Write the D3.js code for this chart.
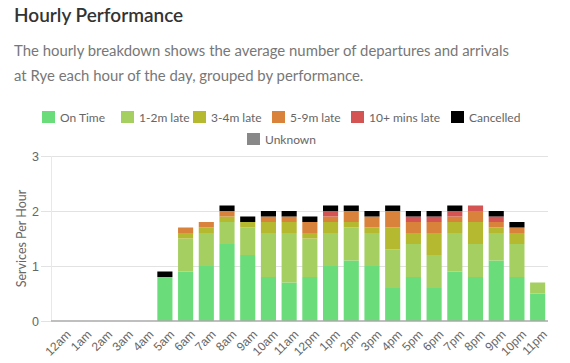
<!DOCTYPE html>
<html>
<head>
<meta charset="utf-8">
<script src="https://cdn.jsdelivr.net/npm/d3@7"></script>
<style>
  body { margin: 0; background: #fff; font-family: "Segoe UI", Lato, "Open Sans", sans-serif; }
  #chart { position: absolute; left: 0; top: 0; }
</style>
</head>
<body>
<div id="chart"></div>
<script>
// hours of the day
var hours = ['12am','1am','2am','3am','4am','5am','6am','7am','8am','9am','10am','11am',
             '12pm','1pm','2pm','3pm','4pm','5pm','6pm','7pm','8pm','9pm','10pm','11pm'];

// series values, services per hour
var onTime    = [0,0,0,0,0,0.8,0.9,1.0,1.4,1.2,0.8,0.7,0.8,1.0,1.1,1.0,0.6,0.8,0.6,0.9,0.8,1.1,0.8,0.5];
var late12    = [0,0,0,0,0,0,  0.6,0.6,0.4,0.5,0.8,0.9,0.7,0.6,0.6,0.6,0.7,0.6,0.6,0.7,0.6,0.5,0.6,0.2];
var late34    = [0,0,0,0,0,0,  0.1,0.1,0.1,0.1,0.2,0.2,0.1,0.2,0.1,0.1,0.4,0.2,0.4,0.2,0.4,0.1,0.2,0];
var late59    = [0,0,0,0,0,0,  0.1,0.1,0.1,0,  0.1,0.1,0.2,0.1,0.2,0.2,0.3,0.2,0.2,0.1,0.2,0.1,0.1,0];
var late10    = [0,0,0,0,0,0,  0,  0,  0,  0,  0,  0,  0,  0.1,0,  0,  0,  0.1,0.1,0.1,0.1,0.1,0,  0];
var cancelled = [0,0,0,0,0,0.1,0,  0,  0.1,0.1,0.1,0.1,0.1,0.1,0.1,0.1,0.1,0.1,0.1,0.1,0,  0.1,0.1,0];
var unknown   = [0,0,0,0,0,0,  0,  0,  0,  0,  0,  0,  0,  0,  0,  0,  0,  0,  0,  0,  0,  0,  0,  0];

var seriesNames = ['On Time','1-2m late','3-4m late','5-9m late','10+ mins late','Cancelled','Unknown'];
var seriesValues = [onTime, late12, late34, late59, late10, cancelled, unknown];
var colours = ['#6adc7a','#a6cf62','#b5b92f','#d9823c','#d45454','#000000','#888888'];
var yTicks = [0,1,2,3];

var w = 570, h = 363;
var m = { left: 51, right: 22, top: 156, bottom: 42 };

var svg = d3.select('#chart').append('svg')
    .attr('width', w)
    .attr('height', h);

// title and description
svg.append('text')
    .attr('x', 14).attr('y', 22)
    .attr('fill', '#333')
    .style('font-size', '19px')
    .style('font-weight', 600)
    .text('Hourly Performance');

var desc = ['The hourly breakdown shows the average number of departures and arrivals',
            'at Rye each hour of the day, grouped by performance.'];
svg.selectAll('.desc')
    .data(desc)
  .enter().append('text')
    .attr('class', 'desc')
    .attr('x', 14)
    .attr('y', function(d, i) { return 56 + i * 25; })
    .attr('fill', '#777')
    .style('font-size', '14.9px')
    .text(function(d) { return d; });

// legend
var legendRows = [[0,1,2,3,4,5],[6]];
var legendX = [[42,121,193,272,351,451],[247]];
legendRows.forEach(function(row, r) {
  var g = svg.selectAll('.leg' + r)
      .data(row)
    .enter().append('g')
      .attr('transform', function(d, i) { return 'translate(' + legendX[r][i] + ',' + (111 + r * 22) + ')'; });
  g.append('rect')
      .attr('width', 13).attr('height', 12)
      .attr('fill', function(d) { return colours[d]; });
  g.append('text')
      .attr('x', 18).attr('y', 10.5)
      .attr('fill', '#666')
      .style('font-size', '12px')
      .text(function(d) { return seriesNames[d]; });
});

// scales
var x = d3.scaleBand()
    .domain(hours)
    .range([m.left, w - m.right])
    .paddingInner(0.27)
    .paddingOuter(0.135);

var y = d3.scaleLinear()
    .domain([0, 3])
    .range([h - m.bottom, m.top]);

// grid
svg.append('g')
  .selectAll('line')
    .data(yTicks.slice(1))
  .enter().append('line')
    .attr('x1', m.left - 10).attr('x2', w - m.right)
    .attr('y1', function(d) { return y(d) + 0.5; })
    .attr('y2', function(d) { return y(d) + 0.5; })
    .attr('stroke', '#e2e2e2');

svg.append('line')
    .attr('x1', m.left + 0.5).attr('x2', m.left + 0.5)
    .attr('y1', m.top).attr('y2', h - m.bottom)
    .attr('stroke', '#e8e8e8');

// y axis
var yAxis = svg.append('g')
    .attr('transform', 'translate(' + m.left + ',0)')
    .call(d3.axisLeft(y).tickValues(yTicks).tickFormat(d3.format('d')).tickSize(10).tickPadding(2));
yAxis.select('.domain').remove();
yAxis.selectAll('line').attr('stroke', '#e2e2e2');
yAxis.selectAll('text').attr('fill', '#666').style('font-size', '12.5px');

svg.append('text')
    .attr('transform', 'translate(26,' + ((m.top + h - m.bottom) / 2) + ') rotate(-90)')
    .attr('text-anchor', 'middle')
    .attr('fill', '#666')
    .style('font-size', '12.5px')
    .text('Services Per Hour');

// stacked bars
var table = hours.map(function(hr, i) {
  var row = { hour: hr };
  seriesNames.forEach(function(s, k) { row[s] = seriesValues[k][i]; });
  return row;
});
var stacked = d3.stack().keys(seriesNames)(table);

svg.append('g')
  .selectAll('g')
    .data(stacked)
  .enter().append('g')
    .attr('fill', function(d, i) { return colours[i]; })
  .selectAll('rect')
    .data(function(d) { return d.filter(function(p) { return p[1] - p[0] > 0; }); })
  .enter().append('rect')
    .attr('x', function(d) { return x(d.data.hour); })
    .attr('width', x.bandwidth())
    .attr('y', function(d) { return y(d[1]); })
    .attr('height', function(d) { return y(d[0]) - y(d[1]); });

// x axis
var xAxis = svg.append('g')
    .attr('transform', 'translate(0,' + (h - m.bottom) + ')')
    .call(d3.axisBottom(x).tickSize(0).tickPadding(6));
xAxis.select('.domain').attr('stroke', '#aaa').attr('stroke-width', 1.5)
    .attr('d', 'M' + m.left + ',0H' + (w - m.right));
xAxis.selectAll('text')
    .attr('fill', '#666')
    .style('font-size', '12px')
    .attr('text-anchor', 'end')
    .attr('dy', '0.35em')
    .attr('transform', 'translate(3,7) rotate(-45)');
</script>
</body>
</html>
